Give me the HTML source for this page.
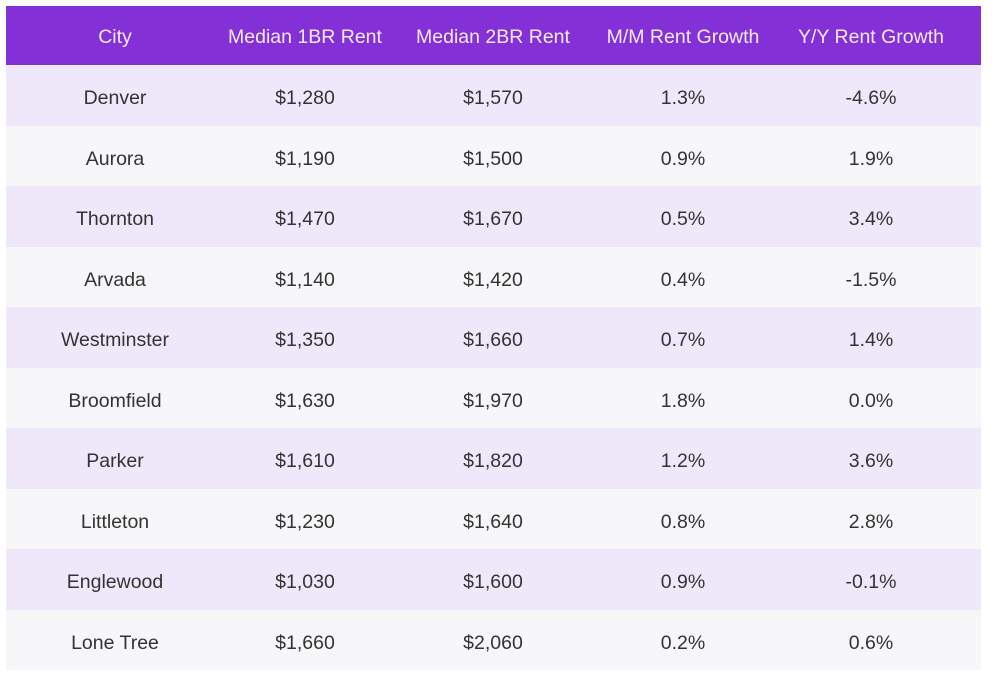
<!DOCTYPE html>
<html><head><meta charset="utf-8"><style>
body{margin:0;background:#fff;width:992px;height:678px;overflow:hidden;font-family:"Liberation Sans",Arial,sans-serif}
.t{position:absolute;left:6px;top:6px;width:975px}
.r{position:relative;height:60.5px}
.h{height:59px;background:#8331d7;color:#f6e8ff;font-size:19px}
.o{background:#efe7fa}.e{background:#f7f6f9}
.c{position:absolute;top:7px;bottom:0;display:flex;align-items:center;justify-content:center;width:200px;margin-left:-100px;font-size:19.5px;color:#333}
.h .c{color:#f6e8ff;top:4px}
</style></head><body><div class="t">
<div class="r h"><div class="c" style="left:109px">City</div><div class="c" style="left:299px">Median 1BR Rent</div><div class="c" style="left:487px">Median 2BR Rent</div><div class="c" style="left:677px">M/M Rent Growth</div><div class="c" style="left:865px">Y/Y Rent Growth</div></div>
<div class="r o"><div class="c" style="left:109px">Denver</div><div class="c" style="left:299px">$1,280</div><div class="c" style="left:487px">$1,570</div><div class="c" style="left:677px">1.3%</div><div class="c" style="left:865px">-4.6%</div></div>
<div class="r e"><div class="c" style="left:109px">Aurora</div><div class="c" style="left:299px">$1,190</div><div class="c" style="left:487px">$1,500</div><div class="c" style="left:677px">0.9%</div><div class="c" style="left:865px">1.9%</div></div>
<div class="r o"><div class="c" style="left:109px">Thornton</div><div class="c" style="left:299px">$1,470</div><div class="c" style="left:487px">$1,670</div><div class="c" style="left:677px">0.5%</div><div class="c" style="left:865px">3.4%</div></div>
<div class="r e"><div class="c" style="left:109px">Arvada</div><div class="c" style="left:299px">$1,140</div><div class="c" style="left:487px">$1,420</div><div class="c" style="left:677px">0.4%</div><div class="c" style="left:865px">-1.5%</div></div>
<div class="r o"><div class="c" style="left:109px">Westminster</div><div class="c" style="left:299px">$1,350</div><div class="c" style="left:487px">$1,660</div><div class="c" style="left:677px">0.7%</div><div class="c" style="left:865px">1.4%</div></div>
<div class="r e"><div class="c" style="left:109px">Broomfield</div><div class="c" style="left:299px">$1,630</div><div class="c" style="left:487px">$1,970</div><div class="c" style="left:677px">1.8%</div><div class="c" style="left:865px">0.0%</div></div>
<div class="r o"><div class="c" style="left:109px">Parker</div><div class="c" style="left:299px">$1,610</div><div class="c" style="left:487px">$1,820</div><div class="c" style="left:677px">1.2%</div><div class="c" style="left:865px">3.6%</div></div>
<div class="r e"><div class="c" style="left:109px">Littleton</div><div class="c" style="left:299px">$1,230</div><div class="c" style="left:487px">$1,640</div><div class="c" style="left:677px">0.8%</div><div class="c" style="left:865px">2.8%</div></div>
<div class="r o"><div class="c" style="left:109px">Englewood</div><div class="c" style="left:299px">$1,030</div><div class="c" style="left:487px">$1,600</div><div class="c" style="left:677px">0.9%</div><div class="c" style="left:865px">-0.1%</div></div>
<div class="r e"><div class="c" style="left:109px">Lone Tree</div><div class="c" style="left:299px">$1,660</div><div class="c" style="left:487px">$2,060</div><div class="c" style="left:677px">0.2%</div><div class="c" style="left:865px">0.6%</div></div>
</div></body></html>
